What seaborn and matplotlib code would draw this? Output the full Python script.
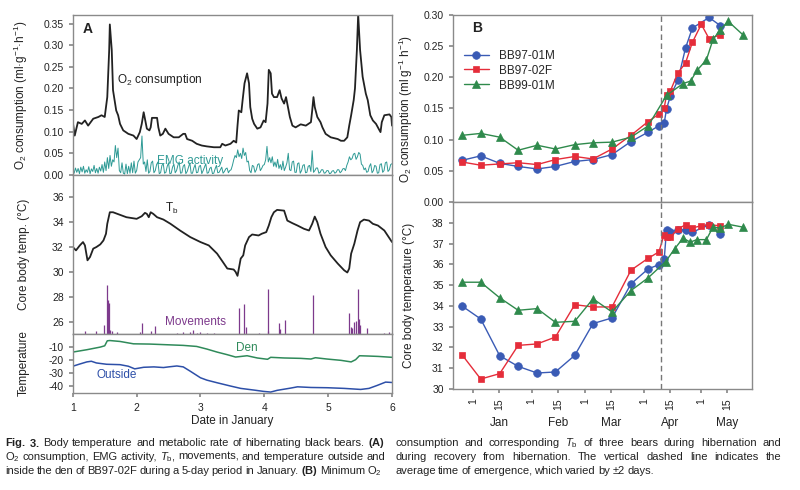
import numpy as np
import matplotlib
matplotlib.use('Agg')
import matplotlib.pyplot as plt
import seaborn as sns

# ---------------- Panel A data (5 days in January, BB97-02F) ----------------
o2_day = [1.00, 1.03, 1.08, 1.14, 1.19, 1.24, 1.32, 1.40, 1.45, 1.50, 1.52, 1.54, 1.57, 1.58,
          1.61, 1.63, 1.68, 1.71, 1.74, 1.79, 1.87, 1.95, 2.00, 2.05, 2.08, 2.11, 2.13, 2.16,
          2.20, 2.22, 2.24, 2.32, 2.34, 2.37, 2.41, 2.45, 2.50, 2.58, 2.66, 2.73, 2.76, 2.79,
          2.87, 2.94, 3.02, 3.10, 3.21, 3.31, 3.34, 3.39, 3.47, 3.52, 3.56, 3.58, 3.60, 3.64,
          3.66, 3.69, 3.73, 3.76, 3.78, 3.81, 3.84, 3.89, 3.94, 3.99, 4.02, 4.05, 4.07, 4.10,
          4.12, 4.15, 4.20, 4.24, 4.27, 4.31, 4.34, 4.37, 4.40, 4.44, 4.49, 4.57, 4.65, 4.73,
          4.75, 4.77, 4.79, 4.83, 4.88, 4.91, 4.96, 5.04, 5.15, 5.20, 5.25, 5.30, 5.33, 5.36,
          5.40, 5.42, 5.45, 5.47, 5.50, 5.54, 5.59, 5.62, 5.66, 5.70, 5.75, 5.79, 5.82, 5.84,
          5.88, 5.96, 5.99, 6.00]
o2_val = [0.122, 0.091, 0.122, 0.118, 0.126, 0.114, 0.130, 0.134, 0.138, 0.134, 0.157, 0.180,
          0.289, 0.348, 0.289, 0.196, 0.149, 0.138, 0.118, 0.103, 0.095, 0.091, 0.083, 0.099,
          0.118, 0.145, 0.130, 0.107, 0.103, 0.110, 0.132, 0.132, 0.110, 0.091, 0.095, 0.107,
          0.095, 0.087, 0.087, 0.095, 0.095, 0.083, 0.079, 0.072, 0.068, 0.066, 0.064, 0.064,
          0.072, 0.068, 0.072, 0.079, 0.075, 0.114, 0.149, 0.145, 0.173, 0.212, 0.235, 0.212,
          0.157, 0.130, 0.118, 0.107, 0.110, 0.126, 0.122, 0.165, 0.243, 0.235, 0.188, 0.180,
          0.180, 0.196, 0.177, 0.165, 0.180, 0.157, 0.134, 0.114, 0.110, 0.117, 0.114, 0.122,
          0.149, 0.180, 0.157, 0.134, 0.122, 0.110, 0.095, 0.087, 0.083, 0.079, 0.079, 0.087,
          0.114, 0.138, 0.173, 0.200, 0.289, 0.371, 0.289, 0.227, 0.188, 0.173, 0.138, 0.126,
          0.118, 0.107, 0.099, 0.122, 0.138, 0.140, 0.134, 0.114]

# EMG activity, half-hourly samples from 1 Jan 00:00
emg_val = [0.012, 0.004, 0.016, 0.006, 0.015, 0.003, 0.018, 0.007, 0.020, 0.004, 0.012, 0.006,
           0.019, 0.003, 0.014, 0.008, 0.022, 0.005, 0.015, 0.004, 0.018, 0.009, 0.024, 0.006,
           0.030, 0.010, 0.040, 0.015, 0.045, 0.020, 0.035, 0.030, 0.068, 0.040, 0.062, 0.010,
           0.005, 0.028, 0.004, 0.002, 0.025, 0.003, 0.020, 0.004, 0.028, 0.005, 0.032, 0.004,
           0.010, 0.030, 0.035, 0.040, 0.090, 0.025, 0.030, 0.008, 0.035, 0.004, 0.008, 0.028,
           0.032, 0.005, 0.010, 0.024, 0.030, 0.003, 0.005, 0.022, 0.026, 0.004, 0.006, 0.020,
           0.028, 0.003, 0.004, 0.018, 0.025, 0.005, 0.010, 0.022, 0.030, 0.004, 0.005, 0.020,
           0.024, 0.003, 0.008, 0.018, 0.028, 0.004, 0.004, 0.016, 0.024, 0.005, 0.006, 0.020,
           0.022, 0.003, 0.010, 0.018, 0.026, 0.004, 0.005, 0.015, 0.018, 0.003, 0.004, 0.014,
           0.022, 0.005, 0.006, 0.012, 0.018, 0.004, 0.008, 0.014, 0.016, 0.005, 0.010, 0.012,
           0.022, 0.035, 0.045, 0.040, 0.058, 0.042, 0.050, 0.038, 0.062, 0.045, 0.052, 0.030,
           0.032, 0.010, 0.005, 0.022, 0.020, 0.006, 0.012, 0.024, 0.026, 0.010, 0.015, 0.022,
           0.024, 0.035, 0.066, 0.030, 0.040, 0.028, 0.042, 0.020, 0.030, 0.018, 0.036, 0.015,
           0.024, 0.012, 0.032, 0.010, 0.018, 0.028, 0.050, 0.012, 0.010, 0.030, 0.032, 0.006,
           0.006, 0.026, 0.028, 0.004, 0.010, 0.022, 0.024, 0.005, 0.006, 0.020, 0.022, 0.008,
           0.056, 0.006, 0.010, 0.016, 0.016, 0.004, 0.006, 0.012, 0.012, 0.004, 0.005, 0.010,
           0.010, 0.003, 0.004, 0.009, 0.010, 0.004, 0.006, 0.012, 0.012, 0.005, 0.008, 0.014,
           0.015, 0.010, 0.022, 0.030, 0.042, 0.035, 0.038, 0.048, 0.050, 0.036, 0.042, 0.052,
           0.048, 0.025, 0.022, 0.012, 0.016, 0.006, 0.008, 0.020, 0.026, 0.005, 0.010, 0.022,
           0.020, 0.004, 0.005, 0.024, 0.026, 0.006, 0.010, 0.028, 0.030, 0.008, 0.012, 0.024,
           0.026]
emg_day = 1 + np.arange(len(emg_val)) / 48

tb_day = [1.00, 1.05, 1.11, 1.16, 1.19, 1.23, 1.27, 1.32, 1.37, 1.43, 1.48, 1.50, 1.52, 1.54,
          1.58, 1.63, 1.74, 1.84, 2.00, 2.08, 2.13, 2.16, 2.19, 2.22, 2.26, 2.32, 2.42, 2.53,
          2.68, 2.84, 3.00, 3.13, 3.26, 3.35, 3.42, 3.52, 3.55, 3.58, 3.63, 3.67, 3.70, 3.76,
          3.81, 3.91, 3.96, 4.03, 4.07, 4.11, 4.15, 4.20, 4.31, 4.36, 4.44, 4.52, 4.62, 4.70,
          4.75, 4.79, 4.83, 4.88, 4.96, 5.04, 5.15, 5.25, 5.30, 5.33, 5.36, 5.41, 5.46, 5.50,
          5.56, 5.64, 5.70, 5.78, 5.88, 6.00]
tb_val = [32.0, 31.73, 32.13, 32.4, 32.13, 30.93, 31.2, 31.87, 32.0, 32.21, 32.53, 32.8, 33.07,
          33.87, 34.8, 34.8, 34.59, 34.4, 34.27, 34.48, 34.75, 34.67, 34.4, 34.8, 34.67, 34.4,
          34.21, 33.87, 33.33, 32.8, 32.4, 32.13, 31.47, 30.8, 30.27, 30.19, 30.0, 29.68, 31.07,
          31.33, 32.13, 32.8, 33.01, 32.93, 33.07, 33.2, 33.73, 34.4, 34.8, 34.99, 34.93, 34.13,
          33.92, 33.73, 33.47, 33.33, 33.87, 34.45, 34.0, 33.07, 32.0, 31.33, 30.67, 30.13,
          29.95, 30.27, 31.47, 32.27, 33.33, 34.0, 34.21, 34.13, 33.87, 33.73, 33.33, 32.4]

move_day = [1.19, 1.37, 1.49, 1.53, 1.55, 1.56, 1.58, 1.62, 1.70, 2.05, 2.08, 2.22, 2.29, 2.63,
            2.73, 2.84, 2.89, 2.94, 3.00, 3.10, 3.21, 3.60, 3.68, 3.72, 3.91, 4.05, 4.06, 4.23,
            4.24, 4.33, 4.76, 5.33, 5.36, 5.38, 5.41, 5.43, 5.46, 5.48, 5.50, 5.61, 5.88, 5.96]
move_top = [25.2, 25.2, 25.73, 28.93, 27.73, 27.47, 25.33, 25.2, 25.15, 25.15, 25.92, 25.2, 25.65,
            25.1, 25.15, 25.15, 25.3, 25.1, 25.15, 25.1, 25.1, 27.07, 27.39, 25.6, 25.1, 25.2,
            28.59, 25.92, 25.4, 26.13, 28.13, 26.72, 25.6, 25.45, 25.95, 26.05, 28.59, 26.2,
            25.7, 25.52, 25.1, 25.15]

den_day = [1.00, 1.22, 1.43, 1.50, 1.54, 1.58, 1.74, 1.95, 2.21, 2.47, 2.73, 2.94, 3.10, 3.26,
           3.42, 3.55, 3.73, 3.89, 4.05, 4.10, 4.31, 4.57, 4.73, 4.80, 4.98, 5.20, 5.36, 5.43,
           5.49, 5.62, 5.78, 6.00]
den_val = [-13.8, -12.0, -10.0, -9.0, -5.2, -5.0, -5.7, -7.5, -7.7, -8.2, -8.7, -9.5, -11.5,
           -13.8, -15.8, -17.6, -16.6, -18.3, -19.3, -17.8, -18.3, -18.6, -19.1, -18.1, -19.1,
           -20.1, -21.3, -19.6, -16.6, -16.8, -17.1, -17.8]

out_day = [1.00, 1.11, 1.22, 1.29, 1.37, 1.53, 1.74, 1.87, 1.97, 2.11, 2.27, 2.42, 2.50, 2.63,
           2.73, 2.84, 3.00, 3.10, 3.26, 3.47, 3.63, 3.84, 3.99, 4.10, 4.20, 4.41, 4.52, 4.73,
           4.99, 5.25, 5.51, 5.64, 5.77, 5.90, 6.00]
out_val = [-24.6, -22.9, -21.3, -20.8, -22.1, -23.1, -23.4, -24.6, -26.6, -25.4, -25.1, -25.6,
           -25.1, -24.4, -25.1, -28.4, -33.4, -35.2, -37.2, -39.7, -41.5, -42.8, -43.8, -44.3,
           -43.0, -41.3, -40.3, -40.8, -41.0, -41.5, -42.3, -41.5, -39.2, -36.7, -37.0]

# ---------------- Panel B data (days after 1 Jan) ----------------
bears = ['BB97-01M', 'BB97-02F', 'BB99-01M']

b1_day = [-5.4, 4.2, 14.2, 23.9, 33.9, 43.5, 53.7, 63.3, 73.3, 83.3, 92.3, 97.9, 100.8, 102,
          104, 108, 112, 115.6, 124.4, 130.3]
b1_o2 = [0.067, 0.074, 0.062, 0.057, 0.053, 0.057, 0.065, 0.068, 0.076, 0.097, 0.112, 0.122,
         0.127, 0.149, 0.170, 0.195, 0.247, 0.279, 0.296, 0.283]
b1_tb = [33.98, 33.37, 31.6, 31.09, 30.77, 30.82, 31.62, 33.15, 33.42, 35.06, 35.78, 35.98,
         36.26, 37.66, 37.55, 37.66, 37.66, 37.55, 37.9, 37.45]

b2_day = [-5.4, 4.2, 14.2, 23.9, 33.9, 43.5, 53.7, 63.3, 73.3, 83.3, 92.3, 98, 100.7, 102,
          104, 108, 112, 115.6, 120.3, 124.4, 130.3]
b2_o2 = [0.064, 0.059, 0.061, 0.063, 0.060, 0.068, 0.073, 0.069, 0.085, 0.107, 0.129, 0.141,
         0.150, 0.171, 0.178, 0.207, 0.223, 0.256, 0.285, 0.262, 0.268]
b2_tb = [31.62, 30.48, 30.74, 32.1, 32.17, 32.5, 34.06, 33.95, 33.95, 35.72, 36.29, 36.6,
         37.42, 37.3, 37.31, 37.71, 37.9, 37.75, 37.86, 37.9, 37.86]

b3_o2_day = [-5.4, 4.2, 14.2, 23.9, 33.9, 43.5, 53.7, 63.3, 73.3, 83.3, 92.3, 102, 110.7,
             114.7, 118, 123, 126.5, 130.3, 134.4, 142.3]
b3_o2 = [0.107, 0.110, 0.104, 0.083, 0.091, 0.085, 0.092, 0.095, 0.096, 0.104, 0.122, 0.171,
         0.190, 0.194, 0.211, 0.228, 0.261, 0.276, 0.290, 0.268]
b3_tb_day = [-5.4, 4.2, 14.2, 23.9, 33.9, 43.5, 53.7, 63.3, 73.3, 83.3, 92.3, 101.5, 106.3,
             110.7, 114.5, 118, 123, 126.5, 130.3, 134.4, 142.3]
b3_tb = [35.14, 35.14, 34.39, 33.79, 33.87, 33.21, 33.26, 34.34, 33.71, 34.74, 35.35, 36.13,
         36.75, 37.26, 37.07, 37.19, 37.19, 37.8, 37.74, 37.93, 37.79]

emergence_day = 99.3
tick_days = [0, 14, 31, 45, 59, 73, 90, 104, 120, 134]
tick_labels = ['1', '15'] * 5
months = ['Jan', 'Feb', 'Mar', 'Apr', 'May']
month_days = [14, 45, 73, 104, 134]

caption_left = [
    r'$\bf{Fig.}$ $\bf{3.}$ Body temperature and metabolic rate of hibernating black bears. $\bf{(A)}$',
    r'O$_2$ consumption, EMG activity, $\it{T}_\mathrm{b}$, movements, and temperature outside and',
    r'inside the den of BB97-02F during a 5-day period in January. $\bf{(B)}$ Minimum O$_2$',
]
caption_right = [
    r'consumption and corresponding $\it{T}_\mathrm{b}$ of three bears during hibernation and',
    'during recovery from hibernation. The vertical dashed line indicates the',
    'average time of emergence, which varied by ±2 days.',
]

# ---------------- style ----------------
sns.set_theme(style='ticks')
plt.rcParams['font.family'] = ['Liberation Sans', 'DejaVu Sans']
plt.rcParams['mathtext.fontset'] = 'custom'
plt.rcParams['mathtext.rm'] = 'Liberation Sans'
plt.rcParams['mathtext.it'] = 'Liberation Sans:italic'
plt.rcParams['mathtext.bf'] = 'Liberation Sans:bold'
plt.rcParams['axes.unicode_minus'] = False
plt.rcParams['axes.edgecolor'] = '#8a8a8a'
plt.rcParams['axes.linewidth'] = 1.0
plt.rcParams['xtick.color'] = '#8a8a8a'
plt.rcParams['ytick.color'] = '#8a8a8a'
plt.rcParams['xtick.labelcolor'] = '#222222'
plt.rcParams['ytick.labelcolor'] = '#222222'
plt.rcParams['xtick.labelsize'] = 7.5
plt.rcParams['ytick.labelsize'] = 7.5
plt.rcParams['xtick.major.size'] = 3
plt.rcParams['ytick.major.size'] = 3
plt.rcParams['axes.labelsize'] = 8.5
plt.rcParams['axes.labelcolor'] = '#222222'

blue_c, red_c, green_c = '#3a5bb5', '#e52d3a', '#2f8a4c'
teal_c, purple_c = '#2e9a95', '#7d3a8c'
den_c, out_c = '#2f8a5a', '#2d4fa8'

fig = plt.figure(figsize=(8, 4.9), dpi=100)

# ---------------- Panel A ----------------
axA1 = fig.add_axes([0.091, 0.643, 0.399, 0.3265])
axA2 = fig.add_axes([0.091, 0.3184, 0.399, 0.3245])
axA3 = fig.add_axes([0.091, 0.198, 0.399, 0.1204])

sns.lineplot(x=emg_day, y=emg_val, ax=axA1, color=teal_c, lw=0.7, estimator=None, sort=False)
sns.lineplot(x=o2_day, y=o2_val, ax=axA1, color='#222222', lw=1.3, estimator=None, sort=False)
axA1.set_ylim(0, 0.37)
axA1.set_yticks(np.arange(0, 0.36, 0.05))
axA1.set_yticklabels([f'{v:.2f}' for v in np.arange(0, 0.36, 0.05)])
axA1.set_ylabel('O$_2$ consumption (ml·g$^{-1}$·h$^{-1}$)')
axA1.text(0.03, 0.89, 'A', transform=axA1.transAxes, fontsize=10, fontweight='bold', color='#222222')
axA1.text(1.69, 0.22, 'O$_2$ consumption', fontsize=8.5, color='#222222', va='center')
axA1.text(2.32, 0.033, 'EMG activity', fontsize=8.5, color=teal_c, va='center')

axA2.vlines(move_day, 25, move_top, color=purple_c, lw=0.9)
sns.lineplot(x=tb_day, y=tb_val, ax=axA2, color='#222222', lw=1.3, estimator=None, sort=False)
axA2.set_ylim(25, 37.8)
axA2.set_yticks([26, 28, 30, 32, 34, 36])
axA2.set_ylabel('Core body temp. (°C)')
axA2.text(2.45, 35.1, 'T$_\\mathrm{b}$', fontsize=8.5, color='#222222', va='center')
axA2.text(2.45, 26.0, 'Movements', fontsize=8.5, color=purple_c, va='center')

sns.lineplot(x=den_day, y=den_val, ax=axA3, color=den_c, lw=1.1, estimator=None, sort=False)
sns.lineplot(x=out_day, y=out_val, ax=axA3, color=out_c, lw=1.1, estimator=None, sort=False)
axA3.set_ylim(-45, 0)
axA3.set_yticks([-10, -20, -30, -40])
axA3.set_ylabel('Temperature')
axA3.text(3.55, -11, 'Den', fontsize=8.5, color=den_c, va='center')
axA3.text(1.37, -31.5, 'Outside', fontsize=8.5, color=out_c, va='center')
axA3.set_xticks([1, 2, 3, 4, 5, 6])
axA3.tick_params(axis='x', pad=4.5)
axA3.set_xlabel('Date in January', labelpad=1)

for ax in (axA1, axA2, axA3):
    ax.set_xlim(1, 6)
    ax.yaxis.set_label_coords(-0.135, 0.5)
    for s in ax.spines.values():
        s.set_visible(True)
for ax in (axA1, axA2):
    ax.set_xticks([])
    ax.set_xlabel('')

# ---------------- Panel B ----------------
axB1 = fig.add_axes([0.566, 0.5878, 0.374, 0.3816])
axB2 = fig.add_axes([0.566, 0.2061, 0.374, 0.3816])

mk = dict(markeredgewidth=0.5, lw=1.0, estimator=None, sort=False)
sns.lineplot(x=b1_day, y=b1_o2, ax=axB1, color=blue_c, marker='o', markersize=5.5,
             markeredgecolor=blue_c, label=bears[0], **mk)
sns.lineplot(x=b2_day, y=b2_o2, ax=axB1, color=red_c, marker='s', markersize=4.8,
             markeredgecolor=red_c, label=bears[1], **mk)
sns.lineplot(x=b3_o2_day, y=b3_o2, ax=axB1, color=green_c, marker='^', markersize=5.5,
             markeredgecolor=green_c, label=bears[2], **mk)

sns.lineplot(x=b1_day, y=b1_tb, ax=axB2, color=blue_c, marker='o', markersize=5.5,
             markeredgecolor=blue_c, **mk)
sns.lineplot(x=b2_day, y=b2_tb, ax=axB2, color=red_c, marker='s', markersize=4.8,
             markeredgecolor=red_c, **mk)
sns.lineplot(x=b3_tb_day, y=b3_tb, ax=axB2, color=green_c, marker='^', markersize=5.5,
             markeredgecolor=green_c, **mk)

axB1.set_ylim(0, 0.30)
axB1.set_yticks(np.arange(0, 0.31, 0.05))
axB1.set_yticklabels([f'{v:.2f}' for v in np.arange(0, 0.31, 0.05)])
axB1.set_ylabel('O$_2$ consumption (ml g$^{-1}$ h$^{-1}$)')
axB1.set_xticks([])
axB1.text(0.064, 0.91, 'B', transform=axB1.transAxes, fontsize=10, fontweight='bold', color='#222222')
axB1.legend(loc='upper left', bbox_to_anchor=(0.02, 0.84), frameon=False, fontsize=8.5,
            handlelength=2.2, labelspacing=0.25, borderaxespad=0)

axB2.set_ylim(30, 39)
axB2.set_yticks(range(30, 39))
axB2.set_ylabel('Core body temperature (°C)')
axB2.set_xticks(tick_days)
axB2.set_xticklabels(tick_labels, rotation=90)
for d, m in zip(month_days, months):
    axB2.text(d, -0.18, m, transform=axB2.get_xaxis_transform(), ha='center', va='center',
              fontsize=8.5, color='#222222')

for ax in (axB1, axB2):
    ax.set_xlim(-10.5, 147)
    ax.axvline(emergence_day, color='#777777', ls=(0, (4, 2.5)), lw=1.0)
    ax.yaxis.set_label_coords(-0.127, 0.5)
    for s in ax.spines.values():
        s.set_visible(True)

# ---------------- caption (justified columns) ----------------
renderer = fig.canvas.get_renderer()
fig_w = fig.get_figwidth() * fig.dpi


def caption_column(lines, x0_px, width_px):
    for i, line in enumerate(lines):
        y = 0.096 - i * 0.0285
        words = line.split(' ')
        texts = [fig.text(0, y, w, fontsize=8, color='#222222', va='center') for w in words]
        widths = [t.get_window_extent(renderer).width for t in texts]
        if i == len(lines) - 1:
            gap = 2.3
        else:
            gap = (width_px - sum(widths)) / (len(words) - 1)
        x = x0_px
        for t, w in zip(texts, widths):
            t.set_x(x / fig_w)
            x += w + gap


caption_column(caption_left, 5, 380)
caption_column(caption_right, 395, 386)

fig.savefig('out.png', dpi=100)
